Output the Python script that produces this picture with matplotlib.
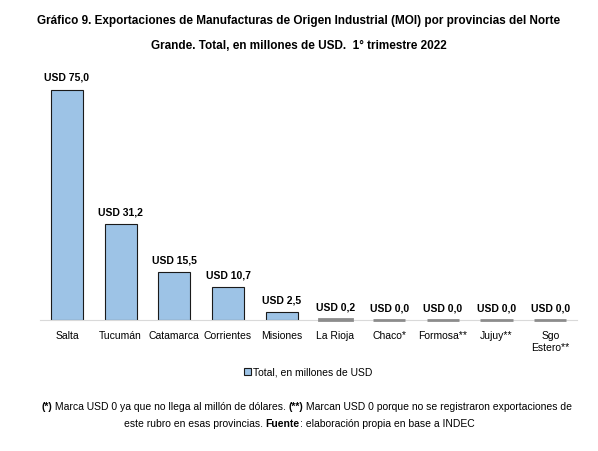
import numpy as np
from matplotlib import pyplot as plt
from matplotlib.patches import Patch

plt.rcParams['font.family'] = ['Liberation Sans', 'DejaVu Sans']

provincias = ['Salta', 'Tucumán', 'Catamarca', 'Corrientes', 'Misiones',
              'La Rioja', 'Chaco*', 'Formosa**', 'Jujuy**', 'Sgo\nEstero**']
valores = [75.0, 31.2, 15.5, 10.7, 2.5, 0.2, 0.0, 0.0, 0.0, 0.0]

nota_1 = [('(*)', 'bold'), (' Marca USD 0 ya que no llega al millón de dólares. ', 'normal'),
          ('(**)', 'bold'), (' Marcan USD 0 porque no se registraron exportaciones de', 'normal')]
nota_2 = [('este rubro en esas provincias. ', 'normal'), ('Fuente', 'bold'),
          (': elaboración propia en base a INDEC', 'normal')]

fig = plt.figure(figsize=(5.98, 4.51), dpi=100)
ax = fig.add_axes([0.067, 0.2905, 0.898, 0.545])

x = np.arange(len(provincias))
bars = ax.bar(x, valores, width=0.6, color='#9DC3E6', edgecolor='#1a1a1a',
              linewidth=0.8, label='Total, en millones de USD')
# tiny bars only show as a grey line on the axis
for b, v in zip(bars, valores):
    if v < 1:
        b.set_edgecolor('#8c8c8c')
        b.set_linewidth(2.0)
        b.set_clip_on(False)
        b.set_zorder(3)

for xi, v in zip(x, valores):
    ax.text(xi, v + 2.2, 'USD ' + f'{v:.1f}'.replace('.', ','), ha='center',
            va='bottom', fontsize=7.5, fontweight='bold')

ax.set_xlim(-0.5, len(provincias) - 0.5)
ax.set_ylim(0, 80)
ax.set_xticks(x)
ax.set_xticklabels(provincias, fontsize=7.5)
ax.tick_params(axis='x', length=0, pad=8)
ax.set_yticks([])
for s in ['top', 'right', 'left']:
    ax.spines[s].set_visible(False)
ax.spines['bottom'].set_color('#d9d9d9')

fig.text(0.5, 0.953, 'Gráfico 9. Exportaciones de Manufacturas de Origen Industrial (MOI) por provincias del Norte',
         ha='center', va='center', fontsize=8.5, fontweight='bold')
fig.text(0.5, 0.898, 'Grande. Total, en millones de USD.  1° trimestre 2022',
         ha='center', va='center', fontsize=8.5, fontweight='bold')

handle = Patch(facecolor='#9DC3E6', edgecolor='#1a1a1a', linewidth=0.8)
fig.legend([handle], ['Total, en millones de USD'], loc='center',
           bbox_to_anchor=(0.515, 0.175), frameon=False, fontsize=7.5,
           handlelength=0.7, handleheight=0.7, handletextpad=0.2)

# footnote lines with mixed bold / normal pieces, centred
renderer = fig.canvas.get_renderer()
for partes, y, xc in [(nota_1, 0.097, 0.513), (nota_2, 0.059, 0.5)]:
    textos = [fig.text(0, y, t, fontweight=w, fontsize=7.5, va='center') for t, w in partes]
    anchos = [t.get_window_extent(renderer).width / fig.bbox.width for t in textos]
    x0 = xc - sum(anchos) / 2
    for t, a in zip(textos, anchos):
        t.set_x(x0)
        x0 += a

fig.savefig('out.png', dpi=100)
